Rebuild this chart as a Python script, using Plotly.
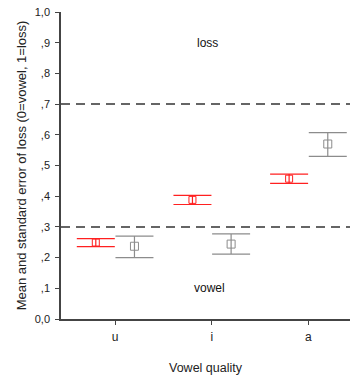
import plotly.graph_objects as go

categories = ["u", "i", "a"]
cat_pos = [1, 2, 3]
red_mean = [0.249, 0.388, 0.457]
red_se = [0.013, 0.015, 0.015]
gray_mean = [0.237, 0.244, 0.570]
gray_se_plus = [0.033, 0.033, 0.037]
gray_se_minus = [0.037, 0.033, 0.040]
offset = 0.2
ref_lines = [0.3, 0.7]
ytick_vals = [0, 0.1, 0.2, 0.3, 0.4, 0.5, 0.6, 0.7, 0.8, 0.9, 1.0]
ytick_text = ["0,0", ",1", ",2", ",3", ",4", ",5", ",6", ",7", ",8", ",9", "1,0"]

font = "Liberation Sans, Arial, sans-serif"
fig = go.Figure()

fig.add_trace(go.Scatter(
    x=[p - offset for p in cat_pos], y=red_mean, mode="markers",
    marker=dict(symbol="square-open", size=7, color="#ff2020", line=dict(width=1)),
    error_y=dict(type="data", array=red_se, color="#ff2020", thickness=1.2, width=19),
    showlegend=False))
fig.add_trace(go.Scatter(
    x=[p + offset for p in cat_pos], y=gray_mean, mode="markers",
    marker=dict(symbol="square-open", size=8, color="#8c8c8c", line=dict(width=1)),
    error_y=dict(type="data", symmetric=False, array=gray_se_plus, arrayminus=gray_se_minus,
                 color="#8c8c8c", thickness=1.2, width=19),
    showlegend=False))

for v in ref_lines:
    fig.add_shape(type="line", xref="paper", x0=0, x1=1, yref="y", y0=v, y1=v,
                  line=dict(color="#333333", width=1.5, dash="9px,6px"))

fig.add_annotation(x=1.96, y=0.9, text="loss", showarrow=False,
                   font=dict(family=font, size=12, color="#111"))
fig.add_annotation(x=1.98, y=0.1, text="vowel", showarrow=False,
                   font=dict(family=font, size=12, color="#111"))

fig.update_layout(
    width=351, height=379,
    margin=dict(l=61, r=1, t=12, b=60),
    paper_bgcolor="white", plot_bgcolor="white",
    font=dict(family=font, size=11, color="#222"),
    xaxis=dict(range=[0.44, 3.43], tickvals=cat_pos, ticktext=categories,
               showgrid=False, zeroline=False, showline=True, linecolor="#444", linewidth=1.5,
               ticks="outside", ticklen=4, tickcolor="#444",
               tickfont=dict(size=12), ticklabelstandoff=2,
               title=dict(text="Vowel quality", font=dict(size=12.5), standoff=20)),
    yaxis=dict(range=[0, 1.0], tickvals=ytick_vals, ticktext=ytick_text,
               showgrid=False, zeroline=False, showline=True, linecolor="#444", linewidth=1.5,
               ticks="outside", ticklen=4, tickcolor="#444",
               tickfont=dict(size=11), ticklabelstandoff=3,
               title=dict(text="Mean and standard error of loss (0=vowel, 1=loss)",
                          font=dict(size=13), standoff=5)),
)

fig.write_html("out.html")
